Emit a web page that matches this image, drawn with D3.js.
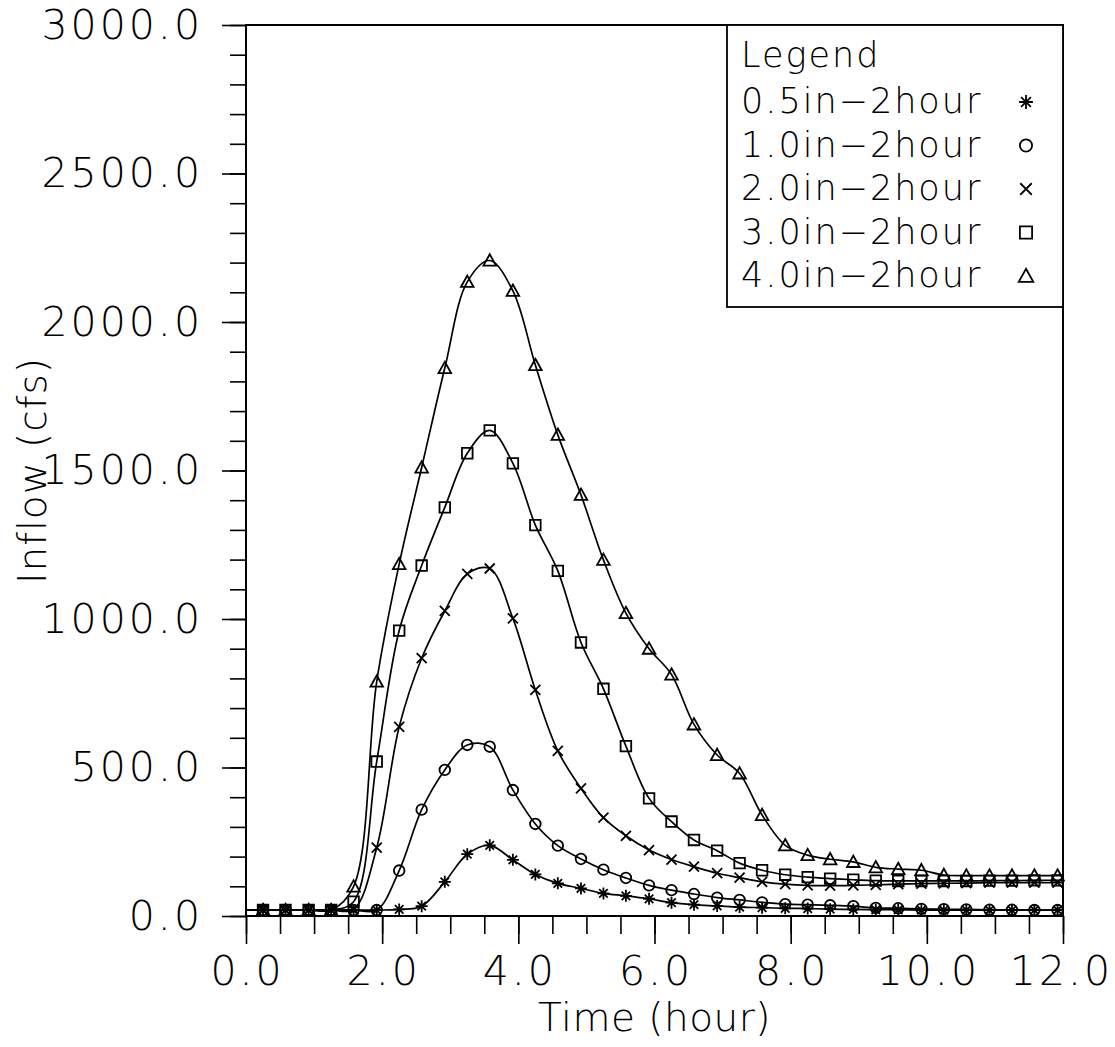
<!DOCTYPE html>
<html>
<head>
<meta charset="utf-8">
<script src="https://cdn.jsdelivr.net/npm/d3@7"></script>
<style>
  html, body { margin: 0; padding: 0; background: #fff; }
  svg { display: block; }
</style>
</head>
<body>
<svg id="chart" width="1115" height="1047"></svg>
<script>
// time of each plotted value (hours); 0 and 12 only carry the line to the frame
const times = [0, 0.25, 0.58, 0.92, 1.25, 1.58, 1.92, 2.25, 2.58, 2.92, 3.25, 3.58, 3.92,
  4.25, 4.58, 4.92, 5.25, 5.58, 5.92, 6.25, 6.58, 6.92, 7.25, 7.58, 7.92, 8.25, 8.58, 8.92,
  9.25, 9.58, 9.92, 10.25, 10.58, 10.92, 11.25, 11.58, 11.92, 12];

const inflow05 = [20, 20, 20, 20, 20, 20, 20, 22, 33, 115, 208, 238, 189,
  140, 110, 93, 76, 68, 58, 45, 38, 34, 30, 28, 26, 25, 23, 22,
  21, 21, 20, 20, 20, 20, 20, 20, 20, 20];
const inflow10 = [20, 20, 20, 20, 20, 20, 20, 153, 358, 492, 576, 570, 424,
  310, 237, 192, 156, 128, 103, 87, 74, 62, 54, 46, 40, 38, 36, 33,
  27, 26, 24, 23, 22, 21, 21, 20, 20, 20];
const inflow20 = [20, 20, 20, 20, 20, 22, 230, 637, 868, 1027, 1152, 1170, 1002,
  761, 556, 430, 331, 270, 222, 190, 166, 144, 129, 115, 107, 103, 102, 103,
  105, 107, 109, 110, 111, 112, 112, 112, 112, 112];
const inflow30 = [20, 20, 20, 20, 20, 48, 520, 961, 1180, 1376, 1558, 1635, 1524,
  1316, 1162, 921, 765, 572, 396, 318, 256, 220, 178, 154, 139, 131, 126, 122,
  119, 118, 118, 118, 118, 119, 119, 120, 120, 120];
const inflow40 = [20, 20, 20, 20, 20, 99, 789, 1185, 1510, 1845, 2135, 2207, 2105,
  1855, 1620, 1418, 1199, 1020, 900, 813, 645, 542, 480, 340, 238, 205, 191, 182,
  164, 158, 154, 138, 136, 136, 136, 136, 136, 136];

const seriesNames = ['0.5in\u22122hour', '1.0in\u22122hour', '2.0in\u22122hour', '3.0in\u22122hour', '4.0in\u22122hour'];
const seriesMarkers = ['asterisk', 'circle', 'cross', 'square', 'triangle'];
const seriesValues = [inflow05, inflow10, inflow20, inflow30, inflow40];

const xTicks = [0, 2, 4, 6, 8, 10, 12];
const yTicks = [0, 500, 1000, 1500, 2000, 2500, 3000];

const width = 1115;
const height = 1047;
const margin = { top: 25, right: 52, bottom: 131, left: 246 };
const font = '"DejaVu Sans", "Liberation Sans", sans-serif';

const svg = d3.select('#chart');
svg.append('rect').attr('width', width).attr('height', height).attr('fill', '#fff');

const x = d3.scaleLinear().domain([0, 12]).range([margin.left, width - margin.right]);
const y = d3.scaleLinear().domain([0, 3000]).range([height - margin.bottom, margin.top]);

const styleText = (sel, size, spacing) => sel
  .attr('font-family', font)
  .attr('font-size', size)
  .attr('font-weight', 200)
  .style('letter-spacing', `${spacing}px`)
  .attr('fill', '#000');

// minor ticks
svg.append('g')
  .attr('transform', `translate(0,${y(0)})`)
  .call(d3.axisBottom(x).tickValues(d3.range(0, 12.01, 0.5)).tickSize(18).tickSizeOuter(0).tickFormat(''))
  .call((g) => g.select('.domain').remove())
  .call((g) => g.selectAll('line').attr('stroke', '#000').attr('stroke-width', 1.6));
svg.append('g')
  .attr('transform', `translate(${x(0)},0)`)
  .call(d3.axisLeft(y).tickValues(d3.range(0, 3001, 100)).tickSize(16).tickSizeOuter(0).tickFormat(''))
  .call((g) => g.select('.domain').remove())
  .call((g) => g.selectAll('line').attr('stroke', '#000').attr('stroke-width', 1.6));

// major ticks + labels
const xAxis = svg.append('g')
  .attr('transform', `translate(0,${y(0)})`)
  .call(d3.axisBottom(x).tickValues(xTicks).tickSize(28).tickSizeOuter(0).tickPadding(12).tickFormat(d3.format('.1f')));
xAxis.select('.domain').remove();
xAxis.selectAll('line').attr('stroke', '#000').attr('stroke-width', 1.6);
styleText(xAxis.selectAll('text'), 41, 3).attr('dx', (d) => (d === 12 ? '-2px' : '1px'));

const yAxis = svg.append('g')
  .attr('transform', `translate(${x(0)},0)`)
  .call(d3.axisLeft(y).tickValues(yTicks).tickSize(24).tickSizeOuter(0).tickPadding(19).tickFormat(d3.format('.1f')));
yAxis.select('.domain').remove();
yAxis.selectAll('line').attr('stroke', '#000').attr('stroke-width', 1.6);
styleText(yAxis.selectAll('text'), 41, 3);

// frame
const [x0, x1] = x.range();
const [y0, y1] = y.range();
svg.append('path')
  .attr('d', `M${x0},${y0}V${y1}H${x1}V${y0}Z`)
  .attr('fill', 'none')
  .attr('stroke', '#000')
  .attr('stroke-width', 2);

// axis titles
styleText(svg.append('text'), 39, 0.5)
  .attr('x', (x0 + x1) / 2)
  .attr('y', 1031)
  .attr('text-anchor', 'middle')
  .text('Time (hour)');
styleText(svg.append('text'), 39, 1)
  .attr('transform', `translate(46,${(y0 + y1) / 2}) rotate(-90)`)
  .attr('text-anchor', 'middle')
  .text('Inflow (cfs)');

// marker shapes
function markerPath(type, cx, cy, s = 1) {
  const p = d3.path();
  if (type === 'asterisk') {
    const r = 6 * s;
    for (let a = 0; a < 4; a++) {
      const ang = a * Math.PI / 4;
      p.moveTo(cx + r * Math.cos(ang), cy + r * Math.sin(ang));
      p.lineTo(cx - r * Math.cos(ang), cy - r * Math.sin(ang));
    }
  } else if (type === 'circle') {
    const r = 5.3 * s;
    p.moveTo(cx + r, cy);
    p.arc(cx, cy, r, 0, Math.PI * 2);
  } else if (type === 'cross') {
    const r = 5 * s;
    p.moveTo(cx - r, cy - r); p.lineTo(cx + r, cy + r);
    p.moveTo(cx + r, cy - r); p.lineTo(cx - r, cy + r);
  } else if (type === 'square') {
    const r = 5.3 * s;
    p.rect(cx - r, cy - r, 2 * r, 2 * r);
  } else if (type === 'triangle') {
    const r = 6.3 * s;
    p.moveTo(cx, cy - r);
    p.lineTo(cx + r, cy + 0.8 * r);
    p.lineTo(cx - r, cy + 0.8 * r);
    p.closePath();
  }
  return p.toString();
}

const line = d3.line()
  .x((d) => x(d[0]))
  .y((d) => y(d[1]))
  .curve(d3.curveCatmullRom.alpha(0.5));

const plot = svg.append('g');
seriesValues.forEach((vals, i) => {
  const pts = times.map((t, j) => [t, vals[j]]);
  plot.append('path')
    .attr('d', line(pts))
    .attr('fill', 'none')
    .attr('stroke', '#000')
    .attr('stroke-width', 1.7);
  plot.selectAll(null)
    .data(pts.filter((d) => d[0] > 0 && d[0] < 12))
    .enter()
    .append('path')
    .attr('d', (d) => markerPath(seriesMarkers[i], x(d[0]), y(d[1])))
    .attr('fill', 'none')
    .attr('stroke', '#000')
    .attr('stroke-width', 1.8);
});

// legend
const legend = svg.append('g');
legend.append('rect')
  .attr('x', 727)
  .attr('y', y1)
  .attr('width', x1 - 727)
  .attr('height', 307 - y1)
  .attr('fill', '#fff')
  .attr('stroke', '#000')
  .attr('stroke-width', 1.8);
styleText(legend.append('text'), 35, 2)
  .attr('x', 741)
  .attr('y', 67)
  .text('Legend');
seriesNames.forEach((name, i) => {
  const by = 113 + i * 43.5;
  styleText(legend.append('text'), 35, 2)
    .attr('x', 741)
    .attr('y', by)
    .text(name);
  legend.append('path')
    .attr('d', markerPath(seriesMarkers[i], 1026, by - 11, 1.15))
    .attr('fill', 'none')
    .attr('stroke', '#000')
    .attr('stroke-width', 1.8);
});
</script>
</body>
</html>
